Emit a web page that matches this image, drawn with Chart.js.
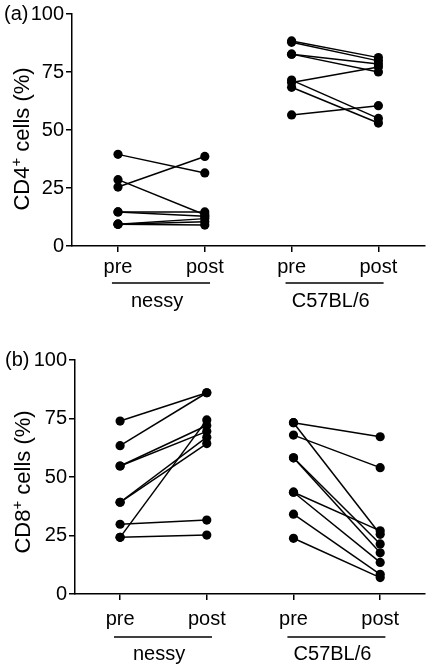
<!DOCTYPE html>
<html>
<head>
<meta charset="utf-8">
<script src="https://cdn.jsdelivr.net/npm/chart.js@4"></script>
<style>
  body { margin: 0; background: #fff; }
  .panel { position: absolute; left: 0; width: 429px; }
  #panelA { top: 0; height: 330px; }
  #panelB { top: 330px; height: 336px; }
</style>
</head>
<body>
<div class="panel" id="panelA"><canvas id="chartA"></canvas></div>
<div class="panel" id="panelB"><canvas id="chartB"></canvas></div>
<script>
const tickLabels = ['pre', 'post', 'pre', 'post']
const groups = ['nessy', 'C57BL/6']
const yTicks = [0, 25, 50, 75, 100]

// (a) CD4+ cells, one pre/post pair per mouse
const cd4NessyPre = [39.5, 28.6, 25.4, 14.7, 14.7, 9.4, 9.4, 9.4]
const cd4NessyPost = [31.5, 13.5, 38.6, 14.7, 12.8, 11.8, 10.4, 9.0]
const cd4C57Pre = [88.4, 87.8, 82.7, 82.7, 70.5, 71.5, 68.4, 56.5]
const cd4C57Post = [81.2, 79.8, 78.4, 75.0, 77.2, 55.0, 53.0, 60.5]

// (b) CD8+ cells
const cd8NessyPre = [73.9, 63.4, 54.7, 54.7, 39.2, 39.2, 29.8, 24.2, 24.2]
const cd8NessyPost = [86.0, 86.0, 72.0, 69.5, 67.0, 64.3, 31.6, 74.4, 25.2]
const cd8C57Pre = [73.2, 73.2, 67.9, 58.2, 58.2, 43.5, 43.5, 34.1, 23.8]
const cd8C57Post = [67.2, 25.5, 54.0, 21.4, 17.6, 27.0, 13.5, 8.4, 7.0]

const FONT = '"Liberation Sans", Arial, sans-serif'

const pairs = (pre, post, offset) => pre.map((v, i) => ({
    data: [{x: 1 + offset, y: v}, {x: 2 + offset, y: post[i]}],
    borderColor: '#000',
    backgroundColor: '#000',
    borderWidth: 1.5,
    pointRadius: 4.6,
    pointBorderWidth: 0,
    pointHoverRadius: 4.6
}))

const panelText = {
    id: 'panelText',
    afterDraw(chart, args, o) {
        const ctx = chart.ctx
        const x = chart.scales.x
        const y = chart.scales.y
        const base = chart.chartArea.bottom
        ctx.save()
        ctx.fillStyle = '#000'
        ctx.strokeStyle = '#000'

        // group underline and names
        groups.forEach((g, k) => {
            const a = x.getPixelForValue(0.93 + 2 * k)
            const b = x.getPixelForValue(2.06 + 2 * k)
            ctx.lineWidth = 1.5
            ctx.beginPath()
            ctx.moveTo(a, base + o.lineGap)
            ctx.lineTo(b, base + o.lineGap)
            ctx.stroke()
            ctx.font = '20px ' + FONT
            ctx.textAlign = 'center'
            ctx.textBaseline = 'alphabetic'
            ctx.fillText(g, x.getPixelForValue(1.45 + 2 * k), base + o.nameGap)
        })

        // panel letter next to the 100 tick
        ctx.font = '20px ' + FONT
        ctx.textAlign = 'left'
        ctx.textBaseline = 'middle'
        ctx.fillText(o.letter, o.letterX, y.getPixelForValue(100))

        // rotated axis title with superscript +
        const mid = (chart.chartArea.top + chart.chartArea.bottom) / 2 + o.titleShift
        ctx.translate(o.titleX, mid)
        ctx.rotate(-Math.PI / 2)
        ctx.textAlign = 'left'
        ctx.textBaseline = 'alphabetic'
        const big = '22px ' + FONT
        const small = '15px ' + FONT
        ctx.font = big
        const w1 = ctx.measureText(o.title[0]).width
        const w3 = ctx.measureText(o.title[1]).width
        ctx.font = small
        const w2 = ctx.measureText('+').width
        let start = -(w1 + w2 + w3) / 2
        ctx.font = big
        ctx.fillText(o.title[0], start, 0)
        ctx.font = small
        ctx.fillText('+', start + w1, -8)
        ctx.font = big
        ctx.fillText(o.title[1], start + w1 + w2, 0)
        ctx.restore()
    }
}

function makePanel(id, datasets, o) {
    return new Chart(document.getElementById(id), {
        type: 'line',
        data: {datasets: datasets},
        plugins: [panelText],
        options: {
            responsive: true,
            maintainAspectRatio: false,
            animation: false,
            layout: {padding: {top: o.top, right: o.right, left: 0, bottom: 0}},
            plugins: {
                legend: {display: false},
                tooltip: {enabled: false},
                panelText: o
            },
            scales: {
                x: {
                    type: 'linear',
                    min: o.xmin,
                    max: o.xmax,
                    afterBuildTicks: s => { s.ticks = [1, 2, 3, 4].map(v => ({value: v})) },
                    afterFit: s => { s.height = o.bottom },
                    ticks: {
                        color: '#000',
                        padding: o.tickPad,
                        font: {family: FONT, size: 20},
                        callback: (v, i) => tickLabels[i]
                    },
                    grid: {drawOnChartArea: false, drawTicks: true, tickLength: 6, color: '#000', lineWidth: 1.5},
                    border: {display: true, color: '#000', width: 1.5}
                },
                y: {
                    min: 0,
                    max: 100,
                    afterBuildTicks: s => { s.ticks = yTicks.map(v => ({value: v})) },
                    afterFit: s => { s.width = o.left },
                    ticks: {
                        color: '#000',
                        padding: 2,
                        font: {family: FONT, size: 20}
                    },
                    grid: {drawOnChartArea: false, drawTicks: true, tickLength: 6, color: '#000', lineWidth: 1.5},
                    border: {display: true, color: '#000', width: 1.5}
                }
            }
        }
    })
}

makePanel('chartA',
    pairs(cd4NessyPre, cd4NessyPost, 0).concat(pairs(cd4C57Pre, cd4C57Post, 2)),
    {top: 13, right: 1, left: 72, bottom: 84, xmin: 0.47, xmax: 4.53, tickPad: 3,
     lineGap: 37, nameGap: 61, letter: '(a)', letterX: 4, titleX: 29, titleShift: 9,
     title: ['CD4', ' cells (%)']})

makePanel('chartB',
    pairs(cd8NessyPre, cd8NessyPost, 0).concat(pairs(cd8C57Pre, cd8C57Post, 2)),
    {top: 30, right: 0, left: 75, bottom: 72, xmin: 0.48, xmax: 4.51, tickPad: 7,
     lineGap: 43, nameGap: 66, letter: '(b)', letterX: 5, titleX: 30, titleShift: 5,
     title: ['CD8', ' cells (%)']})
</script>
</body>
</html>
